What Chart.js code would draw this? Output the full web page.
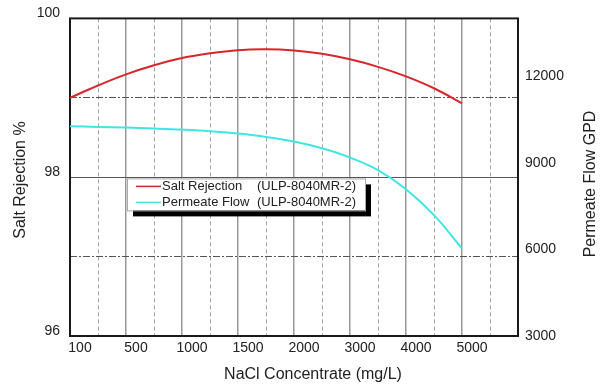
<!DOCTYPE html>
<html lang="en">
<head>
<meta charset="utf-8" />
<title>Salt Rejection and Permeate Flow</title>
<script src="https://cdnjs.cloudflare.com/ajax/libs/Chart.js/4.4.0/chart.umd.js"></script>
<style>
    html, body { margin: 0; padding: 0; background: #fff; }
    canvas { display: block; }
</style>
</head>
<body>
<canvas id="canvas" width="605" height="387"></canvas>
<script>
// x categories: one label every other grid line, the half steps stay blank
const concentrations = ['100', '', '500', '', '1000', '', '1500', '', '2000', '', '3000', '', '4000', '', '5000', '', ''];
const saltRejection = [99.00, 99.155, 99.295, 99.41, 99.50, 99.56, 99.60, 99.61, 99.595, 99.555, 99.485, 99.39, 99.27, 99.12, 98.93];
const permeateFlow = [10264, 10242, 10218, 10188, 10150, 10095, 10010, 9895, 9735, 9500, 9180, 8745, 8080, 7185, 6034];
const rejectionTicks = [96, 97, 98, 99, 100];
const flowTicks = [3000, 6000, 9000, 12000];
const model = 'ULP-8040MR-2';

const FONT = "'Liberation Sans', Arial, sans-serif";
Chart.defaults.font.family = FONT;
Chart.defaults.color = '#222';

const extras = {
    id: 'extras',
    beforeDatasetsDraw(chart) {
        const {ctx, chartArea: a} = chart;
        ctx.save();
        ctx.strokeStyle = '#1a1a1a';
        ctx.lineWidth = 2;
        ctx.strokeRect(a.left, a.top, a.right - a.left, a.bottom - a.top);
        ctx.restore();
    },
    afterDraw(chart) {
        const {ctx, chartArea: a} = chart;
        ctx.save();

        // legend box with its black drop shadow
        const lx = a.left + 57, ly = a.top + 160, lw = 238, lh = 32;
        ctx.fillStyle = '#000';
        ctx.fillRect(lx + 6, ly + 6, lw, lh);
        ctx.fillStyle = '#fff';
        ctx.fillRect(lx, ly, lw, lh);
        ctx.strokeStyle = '#aaa';
        ctx.lineWidth = 1;
        ctx.strokeRect(lx + 0.5, ly + 0.5, lw, lh);

        const rows = [
            ['Salt Rejection', chart.data.datasets[0].borderColor, ly + 8],
            ['Permeate Flow', chart.data.datasets[1].borderColor, ly + 24]
        ];
        ctx.font = '13px ' + FONT;
        ctx.textBaseline = 'middle';
        ctx.textAlign = 'left';
        rows.forEach(([name, color, y]) => {
            ctx.strokeStyle = color;
            ctx.lineWidth = 1.5;
            ctx.beginPath();
            ctx.moveTo(lx + 9, y);
            ctx.lineTo(lx + 34, y);
            ctx.stroke();
            ctx.fillStyle = '#222';
            ctx.fillText(name, lx + 35, y);
            ctx.fillText('(' + model + ')', lx + 130, y);
        });

        // axis titles
        ctx.font = '16px ' + FONT;
        ctx.fillStyle = '#222';
        ctx.textAlign = 'center';
        ctx.fillText('NaCl Concentrate (mg/L)', 313, 375);

        ctx.save();
        ctx.translate(21, 180);
        ctx.rotate(-Math.PI / 2);
        ctx.fillText('Salt Rejection %', 0, 0);
        ctx.restore();

        ctx.save();
        ctx.translate(591, 184);
        ctx.rotate(-Math.PI / 2);
        ctx.fillText('Permeate Flow GPD', 0, 0);
        ctx.restore();

        ctx.restore();
    }
};

new Chart('canvas', {
    type: 'line',
    data: {
        labels: concentrations,
        datasets: [{
            label: 'Salt Rejection (' + model + ')',
            data: saltRejection,
            borderColor: '#d9262c',
            borderWidth: 2,
            pointRadius: 0,
            tension: 0.4,
            yAxisID: 'y'
        }, {
            label: 'Permeate Flow (' + model + ')',
            data: permeateFlow,
            borderColor: '#3fe6e6',
            borderWidth: 2,
            pointRadius: 0,
            tension: 0.4,
            yAxisID: 'y1'
        }]
    },
    plugins: [extras],
    options: {
        responsive: false,
        animation: false,
        layout: { padding: { top: 18, left: 0, right: 0, bottom: 0 } },
        plugins: {
            legend: { display: false },
            tooltip: { enabled: false }
        },
        scales: {
            x: {
                type: 'category',
                offset: false,
                afterFit: s => { s.height = 51; },
                grid: {
                    offset: false,
                    drawTicks: false,
                    color: c => c.index % 2 ? '#a0a0a0' : '#999',
                    lineWidth: c => c.index % 2 ? 1 : 1.5
                },
                border: {
                    display: false,
                    dash: c => c.index % 2 ? [4, 3] : []
                },
                ticks: {
                    autoSkip: false,
                    maxRotation: 0,
                    labelOffset: 10,
                    padding: 4,
                    font: { size: 14 }
                }
            },
            y: {
                position: 'left',
                min: 96,
                max: 100,
                afterBuildTicks: s => { s.ticks = rejectionTicks.map(v => ({value: v})); },
                afterFit: s => { s.width = 70; },
                grid: {
                    drawTicks: false,
                    color: '#555',
                    lineWidth: 1
                },
                border: {
                    display: false,
                    dash: c => c.tick && c.tick.value % 2 ? [7, 2, 2, 2] : []
                },
                ticks: {
                    padding: 10,
                    labelOffset: -5,
                    font: { size: 14 },
                    callback: v => v % 2 === 0 ? v : ''
                }
            },
            y1: {
                position: 'right',
                min: 3000,
                max: 14000,
                afterBuildTicks: s => { s.ticks = flowTicks.map(v => ({value: v})); },
                afterFit: s => { s.width = 87; },
                grid: { display: false, drawTicks: false },
                border: { display: false },
                ticks: {
                    padding: 7,
                    font: { size: 14 },
                    callback: v => String(v)
                }
            }
        }
    }
});
</script>
</body>
</html>
